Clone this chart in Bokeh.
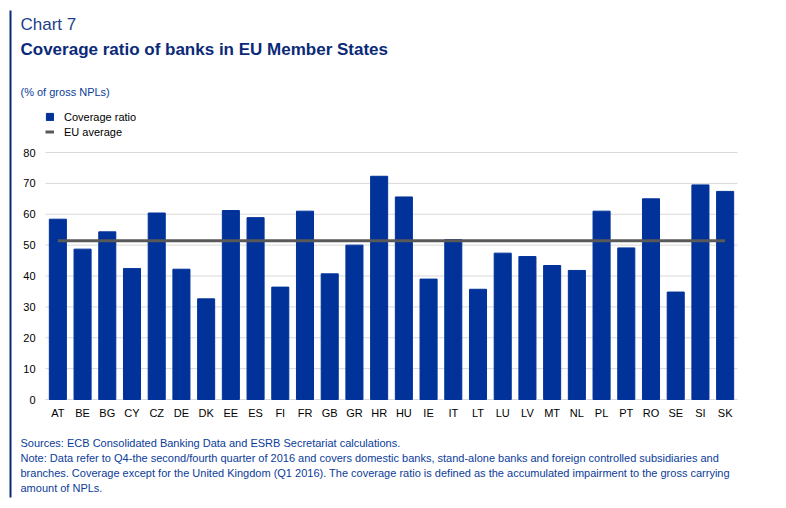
from bokeh.plotting import figure
from bokeh.models import Label, BoxAnnotation, Legend, LegendItem, FactorRange, Range1d
from bokeh.embed import file_html
from bokeh.resources import INLINE

countries = ["AT", "BE", "BG", "CY", "CZ", "DE", "DK", "EE", "ES", "FI", "FR", "GB", "GR", "HR",
             "HU", "IE", "IT", "LT", "LU", "LV", "MT", "NL", "PL", "PT", "RO", "SE", "SI", "SK"]
coverage = [58.4, 48.7, 54.3, 42.4, 60.4, 42.2, 32.6, 61.2, 58.9, 36.4, 61.0, 40.7, 50.0, 72.3,
            65.6, 39.0, 51.8, 35.7, 47.4, 46.3, 43.4, 41.8, 61.0, 49.1, 65.0, 34.8, 69.5, 67.4]
eu_average = 51.4
y_ticks = [0, 10, 20, 30, 40, 50, 60, 70, 80]
y_tick_labels = [str(t) for t in y_ticks]

BLUE = "#003299"
FONT = "Liberation Sans"

# canvas / plot-area geometry (pixels)
W, H = 782, 500
PL, PR, PT, PB = 45, 737, 152, 399
px_per_unit = (PB - PT) / (y_ticks[-1] - y_ticks[0])
cell = (PR - PL) / len(countries)

x_range = FactorRange(factors=countries, range_padding=PL / cell, range_padding_units="absolute")
y_range = Range1d(y_ticks[0] - (H - PB) / px_per_unit, y_ticks[0] + PB / px_per_unit)

p = figure(width=W, height=H, x_range=x_range, y_range=y_range,
           output_backend="svg", toolbar_location=None,
           min_border=0, x_axis_location=None, y_axis_location=None)
p.outline_line_color = None
p.grid.grid_line_color = None

# grid lines
n = len(y_ticks)
p.segment(x0=[0] * n, x1=[len(countries)] * n, y0=y_ticks, y1=y_ticks, line_color="#d9d9d9", line_width=1)

bars = p.vbar(x=countries, top=coverage, width=0.69, color=BLUE)
line = p.line(x=[countries[0], countries[-1]], y=[eu_average, eu_average], line_color="#595959", line_width=3)

# axis tick labels
p.text(x=[countries[0]] * n, y=y_ticks, text=y_tick_labels, x_offset=-(cell / 2 + 10),
       text_align="right", text_baseline="middle", text_font_size="11px",
       text_font={"value": FONT}, text_color="#000000")
p.text(x=countries, y=[y_ticks[0]] * len(countries), text=countries, y_offset=13,
       text_align="center", text_baseline="middle", text_font_size="11px",
       text_font={"value": FONT}, text_color="#000000")

legend = Legend(items=[LegendItem(label="Coverage ratio", renderers=[bars]),
                       LegendItem(label="EU average", renderers=[line])],
                location=(PL, H - 139), orientation="vertical",
                glyph_width=9, glyph_height=9, label_height=15, spacing=0, padding=0, margin=0,
                label_standoff=10, border_line_color=None, background_fill_alpha=0,
                label_text_font=FONT, label_text_font_size="11px", label_text_color="#000000")
p.add_layout(legend, "center")

def lab(x, y, text, size, color, bold=False):
    p.add_layout(Label(x=x, y=H - y, x_units="screen", y_units="screen", text=text,
                       text_font=FONT, text_font_size=size, text_color=color,
                       text_font_style="bold" if bold else "normal", text_baseline="middle"))

lab(20, 24, "Chart 7", "17px", "#1E3F8A")
lab(20, 49, "Coverage ratio of banks in EU Member States", "17px", "#0A2A78", bold=True)
lab(20, 91, "(% of gross NPLs)", "11px", "#0B3C99")
NOTE = "#0B3C99"
lab(20, 442, "Sources: ECB Consolidated Banking Data and ESRB Secretariat calculations.", "11px", NOTE)
lab(20, 457, "Note: Data refer to Q4-the second/fourth quarter of 2016 and covers domestic banks, stand-alone banks and foreign controlled subsidiaries and", "11px", NOTE)
lab(20, 472, "branches. Coverage except for the United Kingdom (Q1 2016). The coverage ratio is defined as the accumulated impairment to the gross carrying", "11px", NOTE)
lab(20, 487, "amount of NPLs.", "11px", NOTE)

p.add_layout(BoxAnnotation(left=9, right=11, top=H - 10, bottom=H - 497,
                           left_units="screen", right_units="screen", top_units="screen", bottom_units="screen",
                           fill_color="#0A2A78", fill_alpha=1, line_color=None))

open("out.html", "w").write(file_html(p, INLINE))
